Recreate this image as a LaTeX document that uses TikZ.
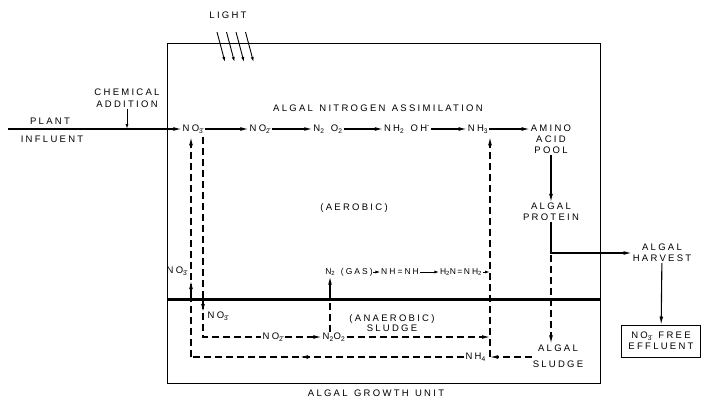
\documentclass[tikz,border=0pt]{standalone}
\usepackage{fontspec}
\newfontfamily\lbl[LetterSpace=24,WordSpace=1.3]{Liberation Sans}
\usetikzlibrary{arrows.meta}
\newcommand{\nox}[1]{NO\textsubscript{\=#1}}

\begin{document}
\begin{tikzpicture}[x=1pt,y=-1pt,
  lab/.style={font=\lbl\fontsize{9.5}{11}\selectfont,inner sep=1pt,align=center},
  formula/.style={font=\lbl\fontsize{8.5}{10}\selectfont,inner sep=0.5pt},
  flow/.style={-{Latex[length=8pt,width=3.8pt]},line width=1.1pt},
  back/.style={flow,dash pattern=on 7pt off 4pt},
  tiny/.style={-{Latex[length=5pt,width=3pt]},line width=0.9pt}]
  \useasboundingbox (0,0) rectangle (704,399);

  % growth unit and the aerobic / anaerobic boundary
  \draw[line width=1pt] (167,43) rectangle (600,383);
  \draw[line width=3pt] (167,299) -- (600,299);
  \node[lab] (unit) at (376,393) {ALGAL GROWTH UNIT};
  \node[lab] (title) at (378,108) {ALGAL NITROGEN ASSIMILATION};
  \node[lab] (aerobic) at (354,208) {(AEROBIC)};
  \node[lab,font=\lbl\fontsize{9.5}{10}\selectfont] (anaerobic) at (392,323) {(ANAEROBIC)\\SLUDGE};

  \node[lab] (light) at (228,15) {LIGHT};
  \foreach \i in {0,...,3}
    \draw[tiny] (217+9.5*\i,32) -- (225+9.5*\i,62);

  % influent
  \coordinate (inlet) at (8,129);
  \node[lab] (plant) at (50,121) {PLANT};
  \node[lab] (influent) at (52,139) {INFLUENT};
  \node[lab,font=\lbl\fontsize{9.5}{12}\selectfont] (chem) at (127,98) {CHEMICAL\\ADDITION};

  % assimilation chain
  \node[lab] (no3) at (193,129) {\nox{3}};
  \node[lab] (no2) at (260,129) {\nox{2}};
  \node[lab] (n2o2) at (328,129) {N\textsubscript{2} O\textsubscript{2}};
  \node[lab] (nh2oh) at (407,129) {NH\textsubscript{2} OH\textsuperscript{-}};
  \node[lab] (nh3) at (478,129) {NH\textsubscript{3}};
  \node[lab] (amino) at (551,139) {AMINO\\ACID\\POOL};
  \node[lab] (protein) at (551,212) {ALGAL\\PROTEIN};
  \node[lab] (harvest) at (662,253) {ALGAL\\HARVEST};
  \node[lab,draw,line width=0.9pt,minimum width=79pt,minimum height=32pt] (effluent) at (661,341) {\nox{3} FREE\\EFFLUENT};
  \node[lab,font=\lbl\fontsize{9.5}{16}\selectfont] (sludge) at (558,356) {ALGAL\\SLUDGE};

  \draw[flow] (inlet) -- (no3);
  \draw[tiny] (chem) -- (chem |- inlet);
  \draw[flow] (no3) -- (no2);
  \draw[flow] (no2) -- (n2o2);
  \draw[flow] (n2o2) -- (nh2oh);
  \draw[flow] (nh2oh) -- (nh3);
  \draw[flow] (nh3.east) -- (amino.west |- nh3);
  \draw[flow] (amino) -- (protein);
  \draw[flow] (protein.south) |- (harvest);
  \draw[flow] (harvest) -- (effluent);
  \draw[back] (protein.south) -- (protein.south |- sludge.north);

  % denitrification in the sludge
  \coordinate (lcorner) at (191,357);
  \coordinate (rcorner) at (203,337);
  \coordinate (nhcorner) at (490,357);
  \coordinate (returntip) at (300,357);
  \node[lab,anchor=east] (nh4) at (487,357) {NH\textsubscript{4}};
  \node[lab] (no2b) at (273,337) {\nox{2}};
  \node[lab] (n2o2b) at (334,337) {N\textsubscript{2}O\textsubscript{2}};
  \node[lab] (no3up) at (177,271) {\nox{3}};
  \node[lab] (no3down) at (218,316) {\nox{3}};

  \node[formula] (n2gas) at (349,272) {N\textsubscript{2} (GAS)};
  \node[formula] (nhnh) at (400,272) {NH=NH};
  \node[formula] (h2nnh2) at (461,272) {H\textsubscript{2}N\,=\,NH\textsubscript{2}};
  \draw[tiny] (n2gas) -- (nhnh);
  \draw[tiny] (nhnh) -- (h2nnh2);
  \draw[tiny] (h2nnh2) -- (h2nnh2 -| nhcorner);

  \draw[back] (sludge.west |- nhcorner) -- (nhcorner);
  \draw[back] (nhcorner) -- ([yshift=-3pt]nhcorner |- nh3.south);
  \draw[back,-] (nh4) -- (lcorner);
  \draw[flow] ([xshift=9pt]returntip) -- (returntip);
  \draw[back] (lcorner) -- ([yshift=-3pt]lcorner |- no3.south);
  \draw[flow] (191,299) -- (191,281);
  \draw[back,-] ([yshift=-3pt]rcorner |- no3.south) -- (rcorner) -- (no2b);
  \draw[flow] (203,299) -- (203,312);
  \draw[back] (no2b) -- (n2o2b);
  \draw[back] (n2o2b) -- (n2o2b -| nhcorner);
  \draw[back,-] ([xshift=-4pt]n2o2b.north) -- ([xshift=-4pt]n2o2b.north |- 0,299);
  \draw[flow] ([xshift=-4pt]n2o2b.north |- 0,299) -- ([xshift=-4pt]n2o2b.north |- n2gas.south);
\end{tikzpicture}
\end{document}
